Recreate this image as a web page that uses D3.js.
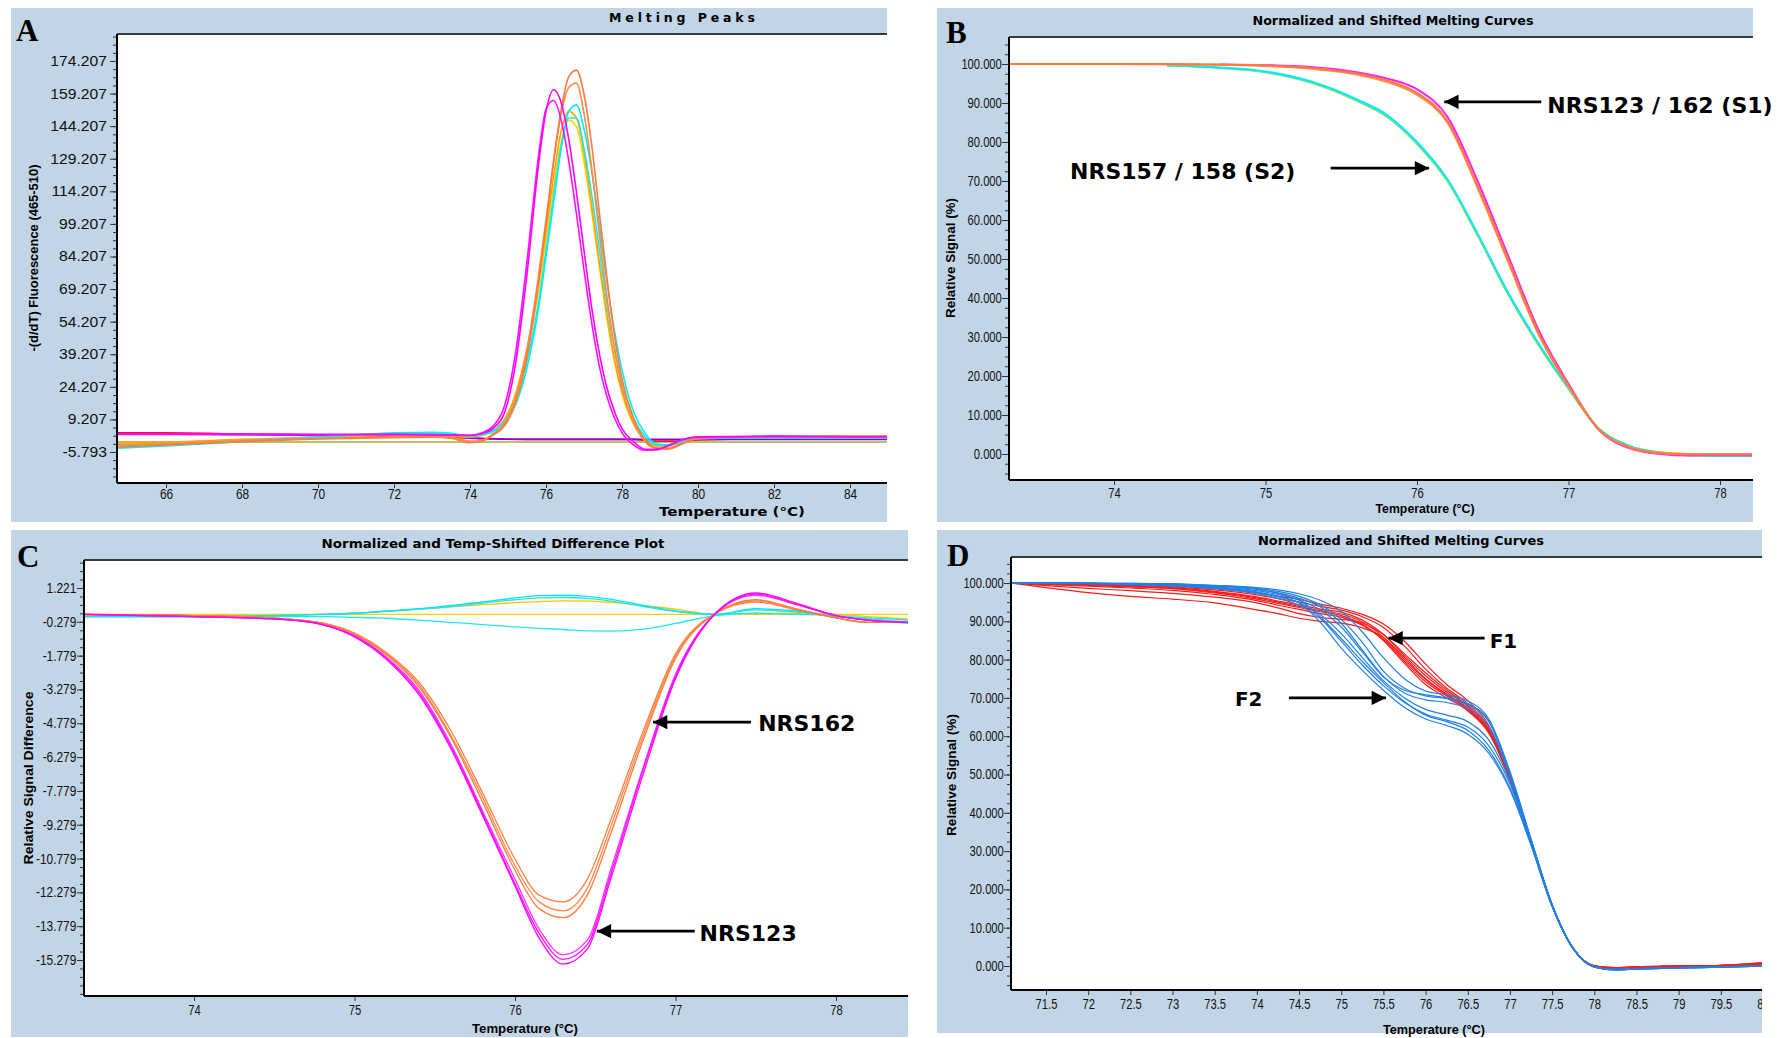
<!DOCTYPE html>
<html>
<head>
<meta charset="utf-8">
<title>Melting curves</title>
<script src="https://cdn.jsdelivr.net/npm/d3@7/dist/d3.min.js"></script>
<style>
  body { margin: 0; background: #fff; }
  text { font-family: "Liberation Sans", Arial, sans-serif; }
</style>
</head>
<body>
<svg id="fig" width="1783" height="1038"></svg>
<script>
// ---------- panel A : melting peaks ----------
var tempA = [64.71, 66, 68, 70, 72, 73, 73.5, 74, 74.3, 74.6, 74.9, 75.2, 75.5, 75.8, 76.0, 76.2, 76.4, 76.6, 76.8, 77.0, 77.2, 77.4, 77.6, 77.8, 78.0, 78.3, 78.6, 78.9, 79.2, 79.6, 80, 82, 84, 84.97];
var magentaA1 = [2.6, 2.6, 2.5, 2.4, 2.3, 2.2, 2.0, 1.8, 2.6, 5, 12, 35, 76, 126, 151, 161, 155, 138, 114, 87, 61, 40, 24, 13, 5, -1, -4.5, -4.5, -3, 0, 1.2, 1.5, 1.2, 1.2];
var magentaA2 = [2.3, 2.3, 2.2, 2.1, 2.2, 2.1, 2.0, 1.9, 3.0, 6, 15, 40, 82, 130, 152, 156, 147, 128, 104, 78, 54, 34, 20, 10, 3, -2.5, -5, -4.8, -3, 0, 1.0, 1.3, 1.2, 1.2];
var orangeA1 = [-3.5, -2.5, -1.0, 0.2, 0.8, 1.0, 0.5, -1.5, -1.0, 2, 6, 17, 38, 72, 99, 128, 152, 167, 170, 159, 136, 105, 75, 48, 28, 10, 0, -4, -4.5, -2, 0.5, 1.5, 1.5, 1.5];
var orangeA2 = [-2.5, -1.8, -0.5, 0.5, 1.2, 1.5, 1.0, -0.8, -0.5, 2.5, 7, 19, 41, 75, 101, 128, 150, 162, 164, 150, 125, 95, 66, 42, 24, 8, -1, -4, -4, -1.5, 0.8, 1.5, 1.4, 1.4];
var cyanA1 = [-4.0, -3.0, -1.0, 1.0, 3.0, 3.3, 2.8, 1.5, 2, 3.5, 7, 16, 33, 60, 84, 109, 134, 151, 154, 143, 124, 99, 73, 50, 32, 13, 3, -2, -2.5, -1, 0.5, 0.8, 0.8, 0.8];
var cyanA2 = [-3.0, -2.2, -0.5, 1.2, 2.8, 3.0, 2.6, 1.6, 2.2, 4, 8, 18, 36, 63, 87, 112, 135, 148, 148, 134, 113, 88, 63, 42, 26, 10, 1.5, -2.5, -2.5, -1, 0.5, 0.8, 0.8, 0.8];
var goldA = [-2.0, -1.5, -0.3, 0.8, 2.0, 2.2, 1.8, 1.2, 2.0, 4, 9, 20, 40, 68, 92, 116, 137, 147, 144, 128, 105, 80, 56, 36, 21, 7, 0, -3, -2.5, -1, 0.5, 0.8, 0.8, 0.8];
var amberA = [-1.5, -1.2, 0, 1.0, 2.0, 2.0, 1.5, 1.0, 1.8, 4, 9, 21, 42, 71, 96, 121, 142, 151, 148, 132, 108, 82, 58, 37, 22, 8, 0, -3, -3, -1, 0.5, 0.9, 0.9, 0.9];
var redA = [3.0, 3.0, 2.5, 2.0, 1.5, 1.2, 1.0, 0.8, 0.5, 0.3, 0.2, 0.1, 0, 0, 0, 0, 0, 0, 0, 0, 0, 0, 0, 0, 0, 0, -0.5, -0.8, -0.8, -0.6, -0.2, 0.2, 0.2, 0.2];
var purpleA = [2.6, 2.4, 2.2, 1.8, 1.4, 1.2, 1.0, 0.6, 0.3, 0.2, 0.1, 0, 0, 0, 0, 0, 0, 0, 0, 0, 0, 0, 0, 0, 0, 0, 0, 0, 0, 0, 0, 0, 0, 0];
var oliveA = [-1.2, -1.2, -1.2, -1.2, -1.2, -1.2, -1.2, -1.2, -1.2, -1.2, -1.2, -1.2, -1.2, -1.2, -1.2, -1.2, -1.2, -1.2, -1.2, -1.2, -1.2, -1.2, -1.2, -1.2, -1.2, -1.2, -1.2, -1.2, -1.2, -1.2, -1.2, -1.2, -1.2, -1.2];
var ticksAx = [66, 68, 70, 72, 74, 76, 78, 80, 82, 84];
var ticksAy = [-5.793, 9.207, 24.207, 39.207, 54.207, 69.207, 84.207, 99.207, 114.207, 129.207, 144.207, 159.207, 174.207];

// ---------- panel B : normalized melting curves ----------
var tempB = [73.31, 74.0, 74.35, 74.7, 75.0, 75.3, 75.6, 75.8, 76.0, 76.2, 76.4, 76.6, 76.8, 77.0, 77.2, 77.4, 77.6, 77.8, 78.0, 78.21];
var orangeB1 = [100, 100, 100, 99.9, 99.6, 99.0, 97.6, 95.8, 92.6, 85.5, 68.8, 50, 31.3, 17.6, 6.3, 1.7, 0.2, -0.1, -0.1, -0.1];
var orangeB2 = [100, 100, 99.9, 99.8, 99.5, 98.8, 97.3, 95.4, 92.1, 85, 68.2, 49.4, 30.8, 17.3, 6.3, 1.8, 0.3, 0, 0, 0];
var magentaB = [null, null, null, 99.9, 99.7, 99.2, 97.9, 96.3, 93.5, 86.5, 70, 51, 32, 18, 6.2, 1.5, 0, -0.4, -0.3, -0.3];
var cyanB1 = [null, null, 99.7, 99.1, 98.1, 95.5, 91, 87, 80, 70.5, 56.5, 41.5, 28.5, 17, 6.5, 2, 0.3, -0.4, -0.5, -0.5];
var cyanB2 = [null, null, 99.6, 99.0, 97.9, 95.3, 90.7, 86.6, 79.6, 70.2, 56.2, 41.2, 28.2, 16.8, 6.5, 2.1, 0.4, -0.2, -0.4, -0.4];
var goldB = [null, null, 99.6, 99.0, 97.9, 95.2, 90.6, 86.5, 79.5, 70, 56, 41, 28, 16.7, 6.5, 2.1, 0.5, 0, -0.2, -0.2];
var ticksBx = [74, 75, 76, 77, 78];
var ticksBy = [0, 10, 20, 30, 40, 50, 60, 70, 80, 90, 100];

// ---------- panel C : difference plot ----------
var tempC = [73.31, 74.0, 74.5, 74.8, 75.0, 75.2, 75.4, 75.6, 75.8, 76.0, 76.15, 76.3, 76.45, 76.6, 76.8, 77.0, 77.25, 77.5, 77.75, 78.0, 78.2, 78.45];
var magentaC1 = [0.05, -0.05, -0.15, -0.4, -0.95, -1.95, -3.5, -5.9, -8.9, -12.0, -14.3, -15.46, -14.8, -11.6, -7.0, -2.8, 0.1, 1.0, 0.55, 0.0, -0.2, -0.3];
var magentaC2 = [0.05, -0.05, -0.15, -0.4, -0.9, -1.9, -3.4, -5.8, -8.8, -11.9, -14.1, -15.25, -14.6, -11.4, -6.8, -2.7, 0.1, 0.95, 0.5, 0.0, -0.2, -0.3];
var magentaC3 = [0.05, -0.05, -0.15, -0.4, -0.9, -1.85, -3.3, -5.7, -8.7, -11.7, -13.9, -15.05, -14.4, -11.2, -6.7, -2.6, 0.1, 0.9, 0.5, 0.0, -0.2, -0.3];
var orangeC1 = [0.05, 0.0, -0.12, -0.35, -0.85, -1.75, -3.15, -5.4, -8.3, -11.3, -13.0, -13.4, -12.4, -9.6, -5.5, -1.9, 0.1, 0.7, 0.3, -0.1, -0.3, -0.3];
var orangeC2 = [0.05, 0.0, -0.12, -0.35, -0.8, -1.7, -3.05, -5.3, -8.1, -11.1, -12.7, -13.1, -12.1, -9.3, -5.3, -1.8, 0.1, 0.65, 0.3, -0.1, -0.3, -0.3];
var orangeC3 = [0.05, 0.0, -0.12, -0.33, -0.78, -1.65, -2.95, -5.1, -7.9, -10.8, -12.4, -12.7, -11.7, -9.0, -5.1, -1.7, 0.1, 0.6, 0.25, -0.1, -0.3, -0.3];
var cyanC1 = [-0.05, -0.05, 0.0, 0.05, 0.1, 0.2, 0.3, 0.45, 0.6, 0.78, 0.88, 0.9, 0.85, 0.72, 0.45, 0.2, 0.05, 0.3, 0.2, -0.05, -0.2, -0.35];
var cyanC2 = [-0.05, -0.05, -0.05, -0.05, -0.08, -0.12, -0.2, -0.3, -0.4, -0.5, -0.57, -0.62, -0.68, -0.69, -0.6, -0.35, 0.0, 0.1, 0.05, 0.0, -0.1, -0.2];
var cyanC3 = [-0.05, -0.05, 0.0, 0.05, 0.1, 0.18, 0.28, 0.4, 0.55, 0.7, 0.78, 0.8, 0.76, 0.64, 0.4, 0.18, 0.05, 0.25, 0.15, -0.05, -0.15, -0.3];
var goldC1 = [0, 0, 0.02, 0.05, 0.1, 0.18, 0.28, 0.38, 0.48, 0.57, 0.62, 0.65, 0.64, 0.58, 0.45, 0.28, 0.05, 0.1, 0.1, 0.05, -0.05, -0.15];
var goldC2 = [0.05, 0.05, 0.05, 0.05, 0.05, 0.05, 0.05, 0.05, 0.05, 0.05, 0.05, 0.05, 0.05, 0.05, 0.05, 0.05, 0.05, 0.05, 0.05, 0.05, 0.05, 0.05];
var ticksCx = [74, 75, 76, 77, 78];
var ticksCy = [-15.279, -13.779, -12.279, -10.779, -9.279, -7.779, -6.279, -4.779, -3.279, -1.779, -0.279, 1.221];

// ---------- panel D : F1 / F2 melting curves ----------
var tempD = [71.08, 71.5, 72, 72.5, 73, 73.5, 74, 74.25, 74.5, 74.75, 75, 75.25, 75.5, 75.75, 76, 76.25, 76.5, 76.75, 77, 77.25, 77.5, 77.75, 78, 78.25, 78.5, 79, 79.5, 80];
var redD = [
  [100, 99.8, 99.6, 99.2, 98.8, 97.8, 96.4, 95.3, 94.3, 93.2, 92.4, 90.3, 86.6, 81, 75.8, 71.5, 67.8, 61.5, 49, 32.5, 15.8, 4.5, 0, -0.5, -0.3, 0, 0.1, 0.6],
  [100, 99.9, 99.7, 99.4, 99.0, 98.2, 96.9, 95.9, 95.0, 93.9, 92.9, 91.2, 88.4, 83.5, 77.5, 72.5, 68.5, 62.3, 49.5, 32.8, 15.9, 4.6, 0, -0.4, -0.2, 0, 0.2, 0.8],
  [100, 99.7, 99.4, 99.0, 98.5, 97.4, 95.8, 94.7, 93.6, 92.5, 91.5, 89.2, 85, 79, 73.5, 70, 66.6, 60.8, 48.6, 32.2, 15.7, 4.5, 0, -0.5, -0.3, 0, 0.1, 0.5],
  [100, 98.8, 97.5, 96.5, 95.8, 94.8, 93, 92, 90.8, 90, 89.5, 88.3, 85.8, 80.5, 75, 71, 67.3, 61.2, 48.8, 32.4, 15.8, 4.5, 0, -0.4, -0.3, 0, 0.2, 0.7],
  [100, 99.3, 98.6, 98.0, 97.3, 96.3, 94.8, 93.5, 92, 91, 90.5, 89.5, 86.5, 81.5, 76.5, 72, 68, 61.8, 49.2, 32.6, 15.9, 4.6, 0, -0.5, -0.3, 0, 0.1, 0.6],
  [100, 99.9, 99.8, 99.6, 99.3, 98.6, 97.5, 96.6, 95.7, 94.5, 93.4, 91.8, 89.3, 84.8, 78.8, 73.5, 69.3, 62.8, 49.8, 33, 16, 4.7, 0.1, -0.4, -0.2, 0, 0.2, 0.9],
  [100, 99.8, 99.5, 99.1, 98.6, 97.6, 96.1, 95, 93.9, 92.8, 91.9, 89.8, 85.8, 80, 74.8, 70.8, 67.2, 61.2, 48.9, 32.3, 15.8, 4.5, 0, -0.5, -0.3, 0, 0.1, 0.6],
  [100, 99.6, 99.2, 98.7, 98.1, 97.0, 95.4, 94.2, 93.1, 92.0, 91.1, 89.0, 85.3, 79.5, 74.2, 70.5, 66.9, 61, 48.7, 32.3, 15.8, 4.5, 0, -0.5, -0.3, 0, 0.1, 0.5]
];
var blueD = [
  [100, 100, 99.9, 99.7, 99.5, 98.8, 97.7, 96.5, 94.8, 89.8, 83, 77.2, 72, 67.5, 64.5, 62.8, 60.5, 55.5, 46, 31.5, 15.5, 4.5, -0.3, -1, -0.8, -0.5, -0.3, 0],
  [100, 100, 99.9, 99.8, 99.6, 99.0, 98.0, 97.0, 95.6, 91.2, 85.5, 79.5, 74, 69, 65.5, 63.8, 61.5, 56.3, 46.5, 31.7, 15.5, 4.5, -0.3, -1, -0.8, -0.5, -0.3, 0],
  [100, 100, 99.9, 99.8, 99.6, 99.2, 98.4, 97.3, 95.5, 93, 88.5, 82, 75.5, 72, 70.8, 70, 68.5, 64, 50.5, 33, 16, 4.6, -0.2, -0.9, -0.7, -0.4, -0.2, 0],
  [100, 100, 100, 99.9, 99.8, 99.3, 98.6, 97.8, 96.5, 94.3, 90.5, 84.5, 77, 72.5, 70.5, 69.8, 68.2, 63.8, 50.2, 32.9, 16, 4.6, -0.2, -0.9, -0.7, -0.4, -0.2, 0.1],
  [100, 99.9, 99.8, 99.5, 99.2, 98.5, 97.2, 96.0, 94.2, 90.8, 84.8, 78.6, 73.2, 68.8, 65.8, 64.2, 62.4, 57.5, 47.5, 32, 15.7, 4.5, -0.3, -1, -0.8, -0.5, -0.3, 0],
  [100, 100, 99.9, 99.8, 99.7, 99.2, 98.3, 97.4, 96.0, 93.8, 89.5, 82.5, 75.6, 71.3, 69.5, 68.8, 67.2, 62.5, 49.5, 32.6, 15.9, 4.6, -0.2, -0.9, -0.7, -0.4, -0.2, 0],
  [100, 100, 99.9, 99.7, 99.4, 98.7, 97.5, 96.4, 94.9, 91.8, 86.8, 80.5, 74.5, 70, 67, 65.5, 63.8, 59, 48.2, 32.3, 15.8, 4.5, -0.3, -1, -0.8, -0.5, -0.3, 0],
  [100, 100, 100, 99.9, 99.8, 99.4, 98.8, 98.2, 97.2, 95.5, 92.6, 87.2, 80.5, 75, 71.8, 70.8, 69.2, 64.5, 50.8, 33.2, 16.1, 4.6, -0.2, -0.9, -0.7, -0.4, -0.2, 0.1]
];
var ticksDx = [71.5, 72, 72.5, 73, 73.5, 74, 74.5, 75, 75.5, 76, 76.5, 77, 77.5, 78, 78.5, 79, 79.5, 80];
var ticksDy = [0, 10, 20, 30, 40, 50, 60, 70, 80, 90, 100];

// annotations, in data units of their panel
var annB = [
  {label: "NRS123 / 162 (S1)", tx: 76.86, ty: 87.4, from: 76.82, to: 76.18, ay: 90.3},
  {label: "NRS157 / 158 (S2)", tx: 73.71, ty: 70.5, from: 75.43, to: 76.08, ay: 73.3}
];
var annC = [
  {label: "NRS162", tx: 77.515, ty: -5.12, from: 77.47, to: 76.86, ay: -4.73},
  {label: "NRS123", tx: 77.15, ty: -14.44, from: 77.12, to: 76.51, ay: -14.0}
];
var annD = [
  {label: "F1", tx: 76.76, ty: 83.0, from: 76.70, to: 75.56, ay: 85.6},
  {label: "F2", tx: 73.74, ty: 67.9, from: 74.38, to: 75.53, ay: 70.0}
];

var svg = d3.select("#fig");
var defs = svg.append("defs");
defs.append("marker")
    .attr("id", "head")
    .attr("viewBox", "0 0 10 10")
    .attr("refX", 10).attr("refY", 5)
    .attr("markerWidth", 6.5).attr("markerHeight", 5.5)
    .attr("orient", "auto")
  .append("path").attr("d", "M0,0L10,5L0,10z").attr("fill", "#000");

function makePanel(id, bg, plot, xRef, xPix, yRef, yPix) {
  var g = svg.append("g");
  defs.append("clipPath").attr("id", "bg" + id).append("rect")
      .attr("x", bg[0]).attr("y", bg[1]).attr("width", bg[2] - bg[0]).attr("height", bg[3] - bg[1]);
  defs.append("clipPath").attr("id", "pl" + id).append("rect")
      .attr("x", plot[0]).attr("y", plot[1]).attr("width", plot[2] - plot[0]).attr("height", plot[3] - plot[1]);
  g.append("rect")
      .attr("x", bg[0]).attr("y", bg[1]).attr("width", bg[2] - bg[0]).attr("height", bg[3] - bg[1])
      .attr("fill", "#c2d5e6");
  g.append("rect")
      .attr("x", plot[0]).attr("y", plot[1]).attr("width", plot[2] - plot[0]).attr("height", plot[3] - plot[1])
      .attr("fill", "#fff");
  return {
    id: id, g: g, bg: bg, plot: plot,
    x: d3.scaleLinear().domain(xRef).range(xPix),
    y: d3.scaleLinear().domain(yRef).range(yPix),
    lines: g.append("g").attr("clip-path", "url(#pl" + id + ")")
  };
}

function drawSeries(p, temps, list, width) {
  var line = d3.line()
      .defined(function(d) { return d[1] != null; })
      .x(function(d) { return p.x(d[0]); })
      .y(function(d) { return p.y(d[1]); })
      .curve(d3.curveMonotoneX);
  p.lines.selectAll(null)
      .data(list)
      .enter()
      .append("path")
      .attr("d", function(s) { return line(temps.map(function(t, i) { return [t, s.values[i]]; })); })
      .attr("fill", "none")
      .attr("stroke", function(s) { return s.color; })
      .attr("stroke-width", width)
      .attr("stroke-linejoin", "round");
}

function fmt3(d) { return d.toFixed(3); }

function drawAxes(p, xt, xfmt, yt, yfmt, o) {
  var ax = p.g.append("g").attr("clip-path", "url(#bg" + p.id + ")");
  var step = yt[1] - yt[0];
  var lo = p.y.invert(p.plot[3]), hi = p.y.invert(p.plot[1]);
  var minor = [];
  for (var v = yt[0] - step / 4; v > lo; v -= step / 4) minor.push(v);
  for (var w = yt[0] + step / 4; w < hi; w += step / 4) minor.push(w);

  ax.append("g")
      .attr("transform", "translate(" + p.plot[0] + ",0)")
      .call(d3.axisLeft(p.y).tickValues(minor).tickSize(4).tickFormat(""));
  var yAx = ax.append("g")
      .attr("transform", "translate(" + p.plot[0] + ",0)")
      .call(d3.axisLeft(p.y).tickValues(yt).tickSize(7).tickPadding(2).tickFormat(yfmt));
  var xAx = ax.append("g")
      .attr("transform", "translate(0," + p.plot[3] + ")")
      .call(d3.axisBottom(p.x).tickValues(xt).tickSize(5).tickPadding(o.xPad).tickFormat(xfmt));

  ax.selectAll(".domain").remove();
  ax.selectAll(".tick line").attr("stroke", "#333");
  ax.selectAll("g").attr("font-family", null).attr("font-size", null);
  yAx.selectAll(".tick text")
      .attr("fill", "#111")
      .style("font-size", "14px")
      .attr("transform", "scale(" + o.ySx + ",1)");
  xAx.selectAll(".tick text")
      .attr("fill", "#111")
      .style("font-size", "14px")
      .attr("transform", "scale(" + o.xSx + ",1)");

  // plot frame
  var pl = p.plot;
  p.g.append("line").attr("x1", pl[0]).attr("x2", pl[2]).attr("y1", pl[1]).attr("y2", pl[1])
      .attr("stroke", "#3a3a3a").attr("stroke-width", 2);
  p.g.append("line").attr("x1", pl[0]).attr("x2", pl[0]).attr("y1", pl[1]).attr("y2", pl[3])
      .attr("stroke", "#000").attr("stroke-width", 2);
  p.g.append("line").attr("x1", pl[0]).attr("x2", pl[2]).attr("y1", pl[3]).attr("y2", pl[3])
      .attr("stroke", "#000").attr("stroke-width", 2);
}

function drawLabels(p, o) {
  p.g.append("text")
      .attr("x", o.letter[0]).attr("y", o.letter[1])
      .style("font-family", "'Liberation Serif', 'Times New Roman', serif")
      .style("font-weight", "bold").style("font-size", "31px")
      .text(o.letterText);
  p.g.append("text")
      .attr("x", o.title[0]).attr("y", o.title[1])
      .attr("text-anchor", "middle")
      .attr("textLength", o.title[2])
      .attr("lengthAdjust", o.titleAdjust)
      .style("font-family", "'DejaVu Sans', Verdana, sans-serif")
      .style("font-weight", "bold").style("font-size", o.titleSize)
      .text(o.titleText);
  p.g.append("text")
      .attr("x", o.xLabel[0]).attr("y", o.xLabel[1])
      .attr("text-anchor", "middle")
      .attr("textLength", o.xLabel[2])
      .attr("lengthAdjust", "spacingAndGlyphs")
      .style("font-family", o.xLabelFont)
      .style("font-weight", "bold").style("font-size", "13px")
      .text("Temperature (\u00b0C)");
  p.g.append("text")
      .attr("transform", "translate(" + o.yLabel[0] + "," + o.yLabel[1] + ") rotate(-90)")
      .attr("text-anchor", "middle")
      .attr("dy", "0.35em")
      .attr("textLength", o.yLabel[2])
      .attr("lengthAdjust", "spacingAndGlyphs")
      .style("font-weight", "bold").style("font-size", "13px")
      .text(o.yLabelText);
}

function drawNotes(p, notes, size) {
  var g = p.g.append("g");
  g.selectAll("line")
      .data(notes)
      .enter()
      .append("line")
      .attr("x1", function(d) { return p.x(d.from); })
      .attr("x2", function(d) { return p.x(d.to); })
      .attr("y1", function(d) { return p.y(d.ay); })
      .attr("y2", function(d) { return p.y(d.ay); })
      .attr("stroke", "#000").attr("stroke-width", 2.6)
      .attr("marker-end", "url(#head)");
  g.selectAll("text")
      .data(notes)
      .enter()
      .append("text")
      .attr("x", function(d) { return p.x(d.tx); })
      .attr("y", function(d) { return p.y(d.ty); })
      .style("font-family", "'DejaVu Sans', Verdana, sans-serif")
      .style("font-weight", "bold").style("font-size", size)
      .text(function(d) { return d.label; });
}

// ----- A -----
var pA = makePanel("A", [11, 8, 887, 522], [117, 34, 887, 483], [66, 84], [166, 850], [-5.793, 174.207], [452, 61]);
drawSeries(pA, tempA, [
  {values: oliveA, color: "#a8a83c"},
  {values: redA, color: "#ff1010"},
  {values: purpleA, color: "#8a00e6"},
  {values: goldA, color: "#ffd400"},
  {values: amberA, color: "#ffa500"},
  {values: cyanA2, color: "#22e6e6"},
  {values: cyanA1, color: "#00f0f0"},
  {values: orangeA2, color: "#ff8a4a"},
  {values: orangeA1, color: "#ff7a3c"},
  {values: magentaA2, color: "#ff10ff"},
  {values: magentaA1, color: "#ff00ff"}
], 1.6);
drawAxes(pA, ticksAx, function(d) { return String(d); }, ticksAy, fmt3, {xPad: 1, ySx: 1.12, xSx: 0.85});
drawLabels(pA, {
  letter: [16, 41], letterText: "A",
  title: [682, 22, 146], titleText: "Melting Peaks", titleSize: "12.5px", titleAdjust: "spacing",
  xLabel: [732, 516, 146], xLabelFont: "'DejaVu Sans', Verdana, sans-serif",
  yLabel: [33, 258, 187], yLabelText: "-(d/dT) Fluorescence (465-510)"
});

// ----- B -----
var pB = makePanel("B", [937, 8, 1753, 522], [1009, 37, 1753, 480], [74, 78], [1114, 1720], [0, 100], [454, 64]);
drawSeries(pB, tempB, [
  {values: goldB, color: "#ffd700"},
  {values: cyanB2, color: "#40e8d0"},
  {values: cyanB1, color: "#10e8f0"},
  {values: magentaB, color: "#ff20ff"},
  {values: orangeB2, color: "#ff9050"},
  {values: orangeB1, color: "#ff7a3c"}
], 2);
drawAxes(pB, ticksBx, function(d) { return String(d); }, ticksBy, fmt3, {xPad: 3, ySx: 0.8, xSx: 0.8});
drawLabels(pB, {
  letter: [946, 43], letterText: "B",
  title: [1393, 25, 281], titleText: "Normalized and Shifted Melting Curves", titleSize: "13px", titleAdjust: "spacingAndGlyphs",
  xLabel: [1425, 513, 99], xLabelFont: "'Liberation Sans', Arial, sans-serif",
  yLabel: [950, 258, 120], yLabelText: "Relative Signal (%)"
});
drawNotes(pB, annB, "22px");

// ----- C -----
var pC = makePanel("C", [11, 530, 908, 1037], [84, 560, 908, 996], [74, 78], [194, 836], [-15.279, 1.221], [960, 588]);
drawSeries(pC, tempC, [
  {values: goldC2, color: "#ffd000"},
  {values: goldC1, color: "#ffc400"},
  {values: cyanC3, color: "#30e0e0"},
  {values: cyanC2, color: "#20e8f0"},
  {values: cyanC1, color: "#00e8f0"},
  {values: orangeC3, color: "#ff8040"},
  {values: orangeC2, color: "#ff8a4a"},
  {values: orangeC1, color: "#ff7a3c"},
  {values: magentaC3, color: "#ff30ff"},
  {values: magentaC2, color: "#ff10ff"},
  {values: magentaC1, color: "#ff00ff"}
], 1.3);
drawAxes(pC, ticksCx, function(d) { return String(d); }, ticksCy, fmt3, {xPad: 4, ySx: 0.85, xSx: 0.8});
drawLabels(pC, {
  letter: [17, 567], letterText: "C",
  title: [493, 548, 343], titleText: "Normalized and Temp-Shifted Difference Plot", titleSize: "13px", titleAdjust: "spacingAndGlyphs",
  xLabel: [525, 1033, 106], xLabelFont: "'Liberation Sans', Arial, sans-serif",
  yLabel: [28, 778, 173], yLabelText: "Relative Signal Difference"
});
drawNotes(pC, annC, "22px");

// ----- D -----
var pD = makePanel("D", [937, 530, 1762, 1033], [1011, 557, 1762, 990], [71.5, 80], [1046, 1763], [0, 100], [966, 583]);
drawSeries(pD, tempD, redD.map(function(v) { return {values: v, color: "#ff1a1a"}; })
  .concat(blueD.map(function(v) { return {values: v, color: "#1f80e6"}; })), 1.2);
drawAxes(pD, ticksDx, function(d) { return d % 1 === 0 ? String(d) : d.toFixed(1); }, ticksDy, fmt3, {xPad: 4, ySx: 0.8, xSx: 0.8});
drawLabels(pD, {
  letter: [947, 566], letterText: "D",
  title: [1401, 545, 286], titleText: "Normalized and Shifted Melting Curves", titleSize: "13px", titleAdjust: "spacingAndGlyphs",
  xLabel: [1434, 1034, 102], xLabelFont: "'Liberation Sans', Arial, sans-serif",
  yLabel: [951, 775, 122], yLabelText: "Relative Signal (%)"
});
drawNotes(pD, annD, "20px");
</script>
</body>
</html>
